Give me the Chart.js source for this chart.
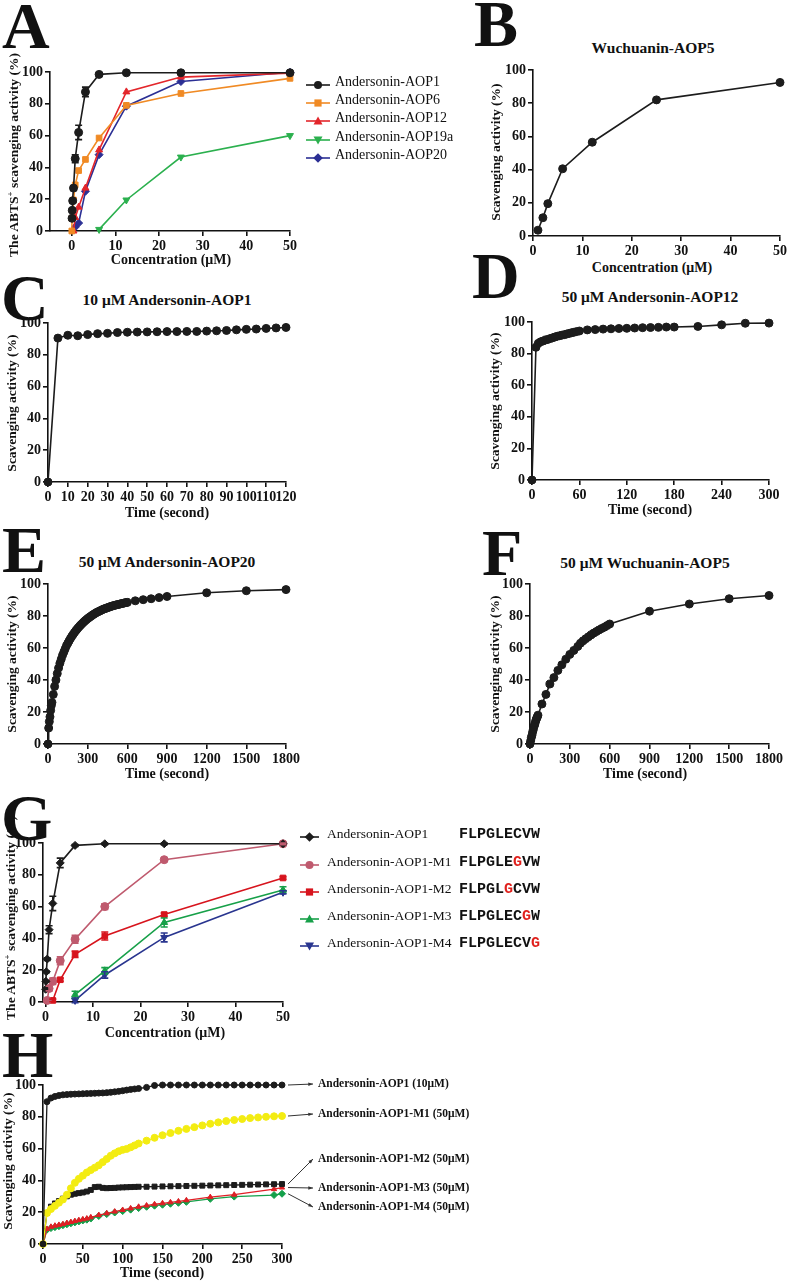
<!DOCTYPE html>
<html>
<head>
<meta charset="utf-8">
<script src="https://cdn.jsdelivr.net/npm/chart.js@4.4.1/dist/chart.umd.min.js"></script>
<style>
  body { margin: 0; background: #fff; }
  #page { position: relative; width: 787px; height: 1283px; overflow: hidden; font-family: "Liberation Serif", "Times New Roman", serif; color: #111; }
  canvas { position: absolute; }
  #page div { position: absolute; white-space: nowrap; line-height: 1; }
  .letter { font-weight: bold; font-size: 66px; line-height: 66px !important; }
  .c { transform: translate(-50%, -50%); font-weight: bold; }
  .r { transform: translate(-50%, -50%) rotate(-90deg); font-weight: bold; font-size: 13.5px; }
  .lc { transform: translateY(-50%); }
  .seq { font-family: "Liberation Mono", "Courier New", monospace; font-weight: bold; font-size: 15px; }
  .seq b { color: #e0201c; }
  sup { font-size: 0.65em; line-height: 0; }
</style>
</head>
<body>
<div id="page"></div>
<script>
// ---- Panel A: ABTS scavenging vs concentration ----
const concA_AOP1 = [0.05, 0.1, 0.2, 0.39, 0.78, 1.56, 3.125, 6.25, 12.5, 25, 50];
const actA_AOP1 = [8, 13, 19, 27, 45.5, 62, 87.5, 98.5, 99.5, 99.5, 99.5];
const errA_AOP1 = [1, 1, 1, 1.5, 2.5, 4.5, 3, 0.8, 0.5, 0.5, 0.5];
const concA_AOP6 = [0, 0.05, 0.39, 0.78, 1.56, 3.125, 6.25, 12.5, 25, 50];
const actA_AOP6 = [0, 8, 19.5, 29, 38, 45, 58.5, 79, 86.5, 96];
const concA_AOP12 = [0.39, 0.78, 1.56, 3.125, 6.25, 12.5, 25, 50];
const actA_AOP12 = [0, 8.5, 15, 27, 51, 87.5, 96.8, 99.3];
const concA_AOP19a = [6.25, 12.5, 25, 50];
const actA_AOP19a = [1, 19.5, 46.5, 60];
const concA_AOP20 = [0.78, 1.56, 3.125, 6.25, 12.5, 25, 50];
const actA_AOP20 = [2.5, 5, 25, 48, 78.5, 94, 99.8];
const ticksA_x = [0, 10, 20, 30, 40, 50];

// ---- Panel B ----
const concB = [1, 2, 3, 6, 12, 25, 50];
const actB = [3.5, 11, 19.5, 40.5, 56.5, 82, 92.5];
const ticksB_x = [0, 10, 20, 30, 40, 50];

// ---- Panel C: 10 uM AOP1 over time ----
const timeC = [0, 5, 10, 15, 20, 25, 30, 35, 40, 45, 50, 55, 60, 65, 70, 75, 80, 85, 90, 95, 100, 105, 110, 115, 120];
const actC = [0, 90.5, 92.3, 92, 92.7, 93.3, 93.5, 94, 94.2, 94.3, 94.4, 94.5, 94.6, 94.6, 94.7, 94.7, 94.9, 95.1, 95.3, 95.7, 96, 96.2, 96.6, 96.9, 97.2];
const ticksC_x = [0, 10, 20, 30, 40, 50, 60, 70, 80, 90, 100, 110, 120];

// ---- Panel D: 50 uM AOP12 ----
const timeD = [0, 5, 8, 11, 14, 17, 20, 23, 26, 29, 32, 35, 38, 41, 44, 47, 50, 53, 56, 60, 70, 80, 90, 100, 110, 120, 130, 140, 150, 160, 170, 180, 210, 240, 270, 300];
const actD = [0, 84, 86.5, 87.5, 88, 88.6, 89, 89.5, 90, 90.5, 91, 91.3, 91.7, 92, 92.4, 92.8, 93.2, 93.5, 93.9, 94.3, 95, 95.2, 95.5, 95.7, 95.9, 96, 96.2, 96.4, 96.5, 96.6, 96.8, 96.8, 97.2, 98.2, 99.2, 99.3];
const ticksD_x = [0, 60, 120, 180, 240, 300];

// ---- Panel E: 50 uM AOP20 ----
const timeE = [0, 5, 10, 15, 20, 25, 30, 40, 50, 60, 70, 80, 90, 100, 110, 120, 130, 140, 150, 160, 170, 180, 190, 200,
  210, 220, 230, 240, 250, 260, 270, 280, 290, 300, 310, 320, 330, 340, 350, 360, 370, 380, 390, 400, 410, 420, 430,
  440, 450, 460, 470, 480, 490, 500, 510, 520, 530, 540, 550, 560, 570, 580, 590, 600, 660, 720, 780, 840, 900, 1200, 1500, 1800];
const actE = [0, 10, 14, 17, 21, 24, 26, 31, 36, 40, 44, 47.5, 50.5, 53, 55.5, 57.5, 59.5, 61.5, 63, 64.5, 66, 67.3, 68.5, 69.7,
  70.8, 71.8, 72.8, 73.7, 74.6, 75.4, 76.2, 77, 77.7, 78.4, 79, 79.6, 80.2, 80.8, 81.3, 81.8, 82.3, 82.7, 83.1, 83.5, 83.9, 84.3, 84.6,
  84.9, 85.2, 85.5, 85.8, 86.1, 86.3, 86.6, 86.8, 87, 87.2, 87.4, 87.6, 87.8, 88, 88.2, 88.4, 88.5, 89.5, 90.2, 90.8, 91.5, 92.2, 94.5, 95.8, 96.5];
const ticksE_x = [0, 300, 600, 900, 1200, 1500, 1800];

// ---- Panel F: 50 uM Wuchuanin-AOP5 ----
const timeF = [0, 5, 10, 15, 20, 25, 30, 35, 40, 45, 50, 55, 60, 90, 120, 150, 180, 210, 240, 270, 300, 330, 360,
  380, 400, 420, 440, 460, 480, 500, 520, 540, 560, 580, 600, 900, 1200, 1500, 1800];
const actF = [0, 2, 4, 5.5, 7.5, 9, 11, 12, 13.5, 15, 16, 17, 18, 25, 31, 37.5, 41.5, 46, 49.5, 53, 56, 58.5, 61,
  63, 64.5, 65.8, 67, 68.2, 69.3, 70.3, 71.3, 72.2, 73, 74, 75, 83, 87.5, 90.8, 92.8];

// ---- Panel G: mutants, concentration ----
const concG_AOP1 = [0.05, 0.1, 0.2, 0.39, 0.78, 1.56, 3.125, 6.25, 12.5, 25, 50];
const actG_AOP1 = [8, 13, 19, 27, 45.5, 62, 87.5, 98.5, 99.5, 99.5, 99.5];
const errG_AOP1 = [0.5, 0.5, 0.5, 0.8, 2.5, 4.5, 3, 0.6, 0.5, 0.5, 0.5];
const concG_M1 = [0.39, 0.78, 1.56, 3.125, 6.25, 12.5, 25, 50];
const actG_M1 = [1, 8.5, 13, 26, 39.5, 60, 89.5, 99.5];
const errG_M1 = [0.3, 1.5, 2, 2.5, 2.5, 1.8, 0.8, 0.5];
const concG_M2 = [1.56, 3.125, 6.25, 12.5, 25, 50];
const actG_M2 = [1, 14, 30, 41.5, 55, 78];
const errG_M2 = [0.8, 1, 2, 2.5, 1, 0.8];
const concG_M3 = [6.25, 12.5, 25, 50];
const actG_M3 = [4.6, 19.6, 50, 70.5];
const errG_M3 = [2.2, 2, 2.8, 2];
const concG_M4 = [6.25, 12.5, 25, 50];
const actG_M4 = [1, 17, 40.6, 69];
const errG_M4 = [1.5, 2, 2.8, 1];
const ticksG_x = [0, 10, 20, 30, 40, 50];

// ---- Panel H: mutants over time ----
const timeH = [0, 5, 10, 15, 20, 25, 30, 35, 40, 45, 50, 55, 60, 65, 70, 75, 80, 85, 90, 95, 100, 105, 110, 115, 120,
  130, 140, 150, 160, 170, 180, 190, 200, 210, 220, 230, 240, 250, 260, 270, 280, 290, 300];
const actH_AOP1 = [0, 89.5, 91.8, 92.8, 93.4, 93.8, 94, 94.2, 94.3, 94.4, 94.5, 94.6, 94.7, 94.8, 94.9, 95, 95.2, 95.4, 95.7, 96, 96.4, 96.8, 97.2, 97.5, 97.8,
  98.5, 99.7, 100, 100, 100, 100, 100, 100, 100, 100, 100, 100, 100, 100, 100, 100, 100, 100];
const actH_M1 = [0, 19.5, 22, 24, 26, 28, 31, 35, 38.5, 41, 43, 45, 46.5, 48, 49.5, 51.5, 53.5, 55.5, 57, 58.3, 59.2, 59.8, 60.8, 62, 63.2,
  65, 66.8, 68.4, 69.8, 71.2, 72.4, 73.5, 74.6, 75.6, 76.5, 77.3, 78, 78.6, 79.2, 79.6, 80, 80.3, 80.5];
const actH_M2 = [0, 19.5, 23.5, 25.5, 27, 28.5, 30, 31, 31.6, 32, 32.4, 33, 34, 35.8, 36, 35.3, 35.1, 35.2, 35.3, 35.5, 35.6, 35.7, 35.8, 35.9, 36,
  36, 36.1, 36.2, 36.3, 36.4, 36.5, 36.6, 36.7, 36.8, 36.9, 37, 37.1, 37.2, 37.3, 37.4, 37.5, 37.6, 37.7];
const timeH_M34 = [0, 5, 10, 15, 20, 25, 30, 35, 40, 45, 50, 55, 60, 70, 80, 90, 100, 110, 120, 130, 140, 150, 160, 170, 180, 210, 240, 290, 300];
const actH_M3 = [0, 9.5, 10.8, 11.5, 12, 12.5, 13.2, 13.8, 14.4, 15, 15.5, 16, 16.8, 18.2, 19.3, 20.4, 21.4, 22.4, 23.4, 24.2, 25, 25.6, 26.2, 26.8, 27.5, 29.5, 31, 34.5, 35.5];
const actH_M4 = [0, 9, 10, 10.6, 11.2, 11.8, 12.4, 13, 13.6, 14.2, 14.8, 15.3, 16, 17.6, 18.8, 19.8, 20.7, 21.6, 22.6, 23.4, 24.1, 24.7, 25.3, 25.9, 26.5, 28.4, 29.8, 30.8, 31.6];
const ticksH_x = [0, 50, 100, 150, 200, 250, 300];

const ticksY = [0, 20, 40, 60, 80, 100];

const page = document.getElementById('page');
const axisFont = { family: 'Liberation Serif', weight: 'bold', size: 14 };

function pts(xs, ys) {
  return xs.map((x, i) => ({ x: x, y: ys[i] }));
}

function put(html, x, y, cls, size) {
  const d = document.createElement('div');
  d.className = cls;
  d.innerHTML = html;
  d.style.left = x + 'px';
  d.style.top = y + 'px';
  if (size) d.style.fontSize = size + 'px';
  page.appendChild(d);
  return d;
}

// big panel letter, placed by its baseline
function letter(ch, x, baseline) {
  put(ch, x, baseline - 55.3, 'letter');
}

// error bars drawn from the dataset's own errors array
const errorBars = {
  id: 'errorBars',
  afterDatasetsDraw(chart) {
    const ctx = chart.ctx;
    const ys = chart.scales.y;
    chart.data.datasets.forEach((ds, i) => {
      if (!ds.errors) return;
      const meta = chart.getDatasetMeta(i);
      ctx.save();
      ctx.strokeStyle = ds.borderColor;
      ctx.lineWidth = 1.6;
      meta.data.forEach((pt, j) => {
        const e = ds.errors[j];
        if (!e) return;
        const v = ds.data[j].y;
        const top = ys.getPixelForValue(v + e), bot = ys.getPixelForValue(v - e);
        ctx.beginPath();
        ctx.moveTo(pt.x, top); ctx.lineTo(pt.x, bot);
        ctx.moveTo(pt.x - 3.5, top); ctx.lineTo(pt.x + 3.5, top);
        ctx.moveTo(pt.x - 3.5, bot); ctx.lineTo(pt.x + 3.5, bot);
        ctx.stroke();
      });
      ctx.restore();
    });
  }
};

// arrows from the last point of each series to its label (panel H)
const endArrows = {
  id: 'endArrows',
  afterDraw(chart, args, opts) {
    if (!opts.targets) return;
    const ctx = chart.ctx;
    ctx.save();
    ctx.strokeStyle = '#333';
    ctx.fillStyle = '#333';
    ctx.lineWidth = 1;
    opts.targets.forEach((t, i) => {
      const meta = chart.getDatasetMeta(i);
      const last = meta.data[meta.data.length - 1];
      const x0 = last.x + 6, y0 = last.y;
      const x1 = t[0] - opts.left, y1 = t[1] - opts.top;
      const a = Math.atan2(y1 - y0, x1 - x0);
      ctx.beginPath();
      ctx.moveTo(x0, y0); ctx.lineTo(x1, y1);
      ctx.stroke();
      ctx.beginPath();
      ctx.moveTo(x1, y1);
      ctx.lineTo(x1 - 5 * Math.cos(a - 0.35), y1 - 5 * Math.sin(a - 0.35));
      ctx.lineTo(x1 - 5 * Math.cos(a + 0.35), y1 - 5 * Math.sin(a + 0.35));
      ctx.closePath();
      ctx.fill();
    });
    ctx.restore();
  }
};

function axis(min, max, ticks, fit) {
  return {
    type: 'linear', min: min, max: max,
    border: { color: '#111', width: 1.6 },
    grid: { drawOnChartArea: false, drawTicks: true, tickLength: 5, color: '#111', lineWidth: 1.6 },
    ticks: { color: '#111', font: axisFont, padding: 2, maxRotation: 0, autoSkip: false, callback: v => String(v) },
    afterBuildTicks: s => { s.ticks = ticks.map(v => ({ value: v })); },
    afterFit: fit
  };
}

// box = chart area in page pixels
function makePanel(box, xMin, xMax, xTicks, datasets, extra) {
  extra = extra || {};
  const YW = 44, PT = 12, XH = 24, PR = extra.pr || 24;
  const left = box.l - YW, top = box.t - PT;
  const w = box.r - box.l + YW + PR, h = box.b - box.t + PT + XH;
  const cv = document.createElement('canvas');
  cv.width = w; cv.height = h;
  cv.style.left = left + 'px';
  cv.style.top = top + 'px';
  page.appendChild(cv);
  const pluginOpts = { legend: { display: false }, tooltip: { enabled: false } };
  if (extra.targets) pluginOpts.endArrows = { targets: extra.targets, left: left, top: top };
  return new Chart(cv, {
    type: 'scatter',
    data: { datasets: datasets },
    options: {
      responsive: false,
      animation: false,
      layout: { padding: { top: PT, right: PR, left: 0, bottom: 0 } },
      plugins: pluginOpts,
      scales: {
        x: axis(xMin, xMax, xTicks, s => { s.height = XH; }),
        y: axis(0, 100, ticksY, s => { s.width = YW; })
      }
    },
    plugins: [errorBars, endArrows]
  });
}

function series(xs, ys, color, shape, opts) {
  return Object.assign({
    data: pts(xs, ys),
    showLine: true,
    borderColor: color,
    backgroundColor: color,
    borderWidth: 1.6,
    pointStyle: shape,
    pointRadius: 4,
    pointBorderWidth: 1,
    clip: false,
    tension: 0
  }, opts || {});
}

const black = '#1c1c1c';

// ---- A ----
makePanel({ l: 50, t: 72, r: 290, b: 231 }, -5, 50, ticksA_x, [
  series(concA_AOP1, actA_AOP1, black, 'circle', { errors: errA_AOP1 }),
  series(concA_AOP6, actA_AOP6, '#f08a24', 'rect'),
  series(concA_AOP12, actA_AOP12, '#e3262b', 'triangle'),
  series(concA_AOP19a, actA_AOP19a, '#2bb04e', 'triangle', { rotation: 180 }),
  series(concA_AOP20, actA_AOP20, '#2b2f94', 'rectRot')
]);

// ---- B ----
makePanel({ l: 533, t: 70, r: 780, b: 236 }, 0, 50, ticksB_x, [
  series(concB, actB, black, 'circle')
]);

// ---- C ----
makePanel({ l: 48, t: 323, r: 286, b: 482 }, 0, 120, ticksC_x, [
  series(timeC, actC, black, 'circle')
]);

// ---- D ----
makePanel({ l: 532, t: 322, r: 769, b: 480 }, 0, 300, ticksD_x, [
  series(timeD, actD, black, 'circle')
]);

// ---- E ----
makePanel({ l: 48, t: 584, r: 286, b: 744 }, 0, 1800, ticksE_x, [
  series(timeE, actE, black, 'circle')
]);

// ---- F ----
makePanel({ l: 530, t: 584, r: 769, b: 744 }, 0, 1800, ticksE_x, [
  series(timeF, actF, black, 'circle')
]);

// ---- G ----
makePanel({ l: 43, t: 843, r: 283, b: 1002 }, -0.5, 50, ticksG_x, [
  series(concG_AOP1, actG_AOP1, black, 'rectRot', { errors: errG_AOP1 }),
  series(concG_M1, actG_M1, '#bf5a6e', 'circle', { errors: errG_M1 }),
  series(concG_M2, actG_M2, '#d7141d', 'rect', { errors: errG_M2 }),
  series(concG_M3, actG_M3, '#17a049', 'triangle', { errors: errG_M3 }),
  series(concG_M4, actG_M4, '#29358f', 'triangle', { rotation: 180, errors: errG_M4 })
]);

// ---- H ----
const hSmall = { pointRadius: 3, borderWidth: 1.3 };
makePanel({ l: 43, t: 1085, r: 282, b: 1244 }, 0, 300, ticksH_x, [
  series(timeH, actH_AOP1, black, 'circle', hSmall),
  series(timeH, actH_M1, '#f3ec12', 'circle', { pointRadius: 3.5, borderWidth: 1.3 }),
  series(timeH, actH_M2, black, 'rect', { pointRadius: 3.5, borderWidth: 1.3 }),
  series(timeH_M34, actH_M3, '#e01f26', 'triangle', hSmall),
  series(timeH_M34, actH_M4, '#14a04a', 'rectRot', { pointRadius: 3.5, borderWidth: 1.3 })
], { pr: 40, targets: [[313, 1084], [313, 1114], [313, 1159], [313, 1188], [313, 1207]] });

// ---- letters ----
letter('A', 2, 48);
letter('B', 474, 46);
letter('C', 1, 320);
letter('D', 472, 298);
letter('E', 2, 572);
letter('F', 482, 575);
letter('G', 1, 840);
letter('H', 2, 1077);

// ---- titles ----
put('Wuchuanin-AOP5', 653, 48, 'c', 15.5);
put('10 μM Andersonin-AOP1', 167, 300, 'c', 15.5);
put('50 μM Andersonin-AOP12', 650, 297, 'c', 15.5);
put('50 μM Andersonin-AOP20', 167, 562, 'c', 15.5);
put('50 μM Wuchuanin-AOP5', 645, 563, 'c', 15.5);

// ---- axis titles ----
const abts = 'The ABTS<sup>+</sup> scavenging activity (%)';
const scav = 'Scavenging activity (%)';
put(abts, 14, 155, 'r');
put(scav, 496, 152, 'r');
put(scav, 12, 403, 'r');
put(scav, 495, 401, 'r');
put(scav, 12, 664, 'r');
put(scav, 495, 664, 'r');
put(abts, 11, 918, 'r');
put(scav, 8, 1161, 'r');

put('Concentration (μM)', 171, 260, 'c', 14);
put('Concentration (μM)', 652, 268, 'c', 14);
put('Time (second)', 167, 513, 'c', 14);
put('Time (second)', 650, 510, 'c', 14);
put('Time (second)', 167, 774, 'c', 14);
put('Time (second)', 645, 774, 'c', 14);
put('Concentration (μM)', 165, 1033, 'c', 14);
put('Time (second)', 162, 1273, 'c', 14);

// ---- legends ----
function markerSvg(shape, color, w, rotate) {
  const cx = w / 2, cy = 6;
  let m = '';
  if (shape === 'circle') m = `<circle cx="${cx}" cy="${cy}" r="4" fill="${color}"/>`;
  if (shape === 'rect') m = `<rect x="${cx - 3.6}" y="${cy - 3.6}" width="7.2" height="7.2" fill="${color}"/>`;
  if (shape === 'triangle') m = rotate
    ? `<polygon points="${cx - 4.5},${cy - 3.5} ${cx + 4.5},${cy - 3.5} ${cx},${cy + 4.5}" fill="${color}"/>`
    : `<polygon points="${cx - 4.5},${cy + 3.5} ${cx + 4.5},${cy + 3.5} ${cx},${cy - 4.5}" fill="${color}"/>`;
  if (shape === 'rectRot') m = `<polygon points="${cx},${cy - 4.8} ${cx + 4.8},${cy} ${cx},${cy + 4.8} ${cx - 4.8},${cy}" fill="${color}"/>`;
  return `<svg width="${w}" height="12" style="vertical-align:middle"><line x1="0" y1="${cy}" x2="${w}" y2="${cy}" stroke="${color}" stroke-width="1.6"/>${m}</svg>`;
}

function legendRow(x, y, w, shape, color, rotate, label, textX, size) {
  put(markerSvg(shape, color, w, rotate), x, y - 6, '');
  put(label, textX, y, 'lc', size);
}

const legendA = ['Andersonin-AOP1', 'Andersonin-AOP6', 'Andersonin-AOP12', 'Andersonin-AOP19a', 'Andersonin-AOP20'];
const legendAStyle = [[black, 'circle', 0], ['#f08a24', 'rect', 0], ['#e3262b', 'triangle', 0], ['#2bb04e', 'triangle', 1], ['#2b2f94', 'rectRot', 0]];
const rowsA = [82, 100, 118, 137, 155];
legendA.forEach((lab, i) => legendRow(306, rowsA[i], 24, legendAStyle[i][1], legendAStyle[i][0], legendAStyle[i][2], lab, 335, 14));

const legendG = ['Andersonin-AOP1', 'Andersonin-AOP1-M1', 'Andersonin-AOP1-M2', 'Andersonin-AOP1-M3', 'Andersonin-AOP1-M4'];
const seqG = ['FLPGLECVW', 'FLPGLE<b>G</b>VW', 'FLPGL<b>G</b>CVW', 'FLPGLEC<b>G</b>W', 'FLPGLECV<b>G</b>'];
const legendGStyle = [[black, 'rectRot', 0], ['#bf5a6e', 'circle', 0], ['#d7141d', 'rect', 0], ['#17a049', 'triangle', 0], ['#29358f', 'triangle', 1]];
const rowsG = [834, 862, 889, 916, 943];
legendG.forEach((lab, i) => {
  legendRow(300, rowsG[i], 19, legendGStyle[i][1], legendGStyle[i][0], legendGStyle[i][2], lab, 327, 13.5);
  put(seqG[i], 459, rowsG[i], 'lc seq');
});

// ---- H labels ----
const labelsH = ['Andersonin-AOP1 (10μM)', 'Andersonin-AOP1-M1 (50μM)', 'Andersonin-AOP1-M2 (50μM)', 'Andersonin-AOP1-M3 (50μM)', 'Andersonin-AOP1-M4 (50μM)'];
const rowsH = [1084, 1114, 1159, 1188, 1207];
labelsH.forEach((lab, i) => {
  const d = put(lab, 318, rowsH[i], 'lc', 11.5);
  d.style.fontWeight = 'bold';
});
</script>
</body>
</html>
